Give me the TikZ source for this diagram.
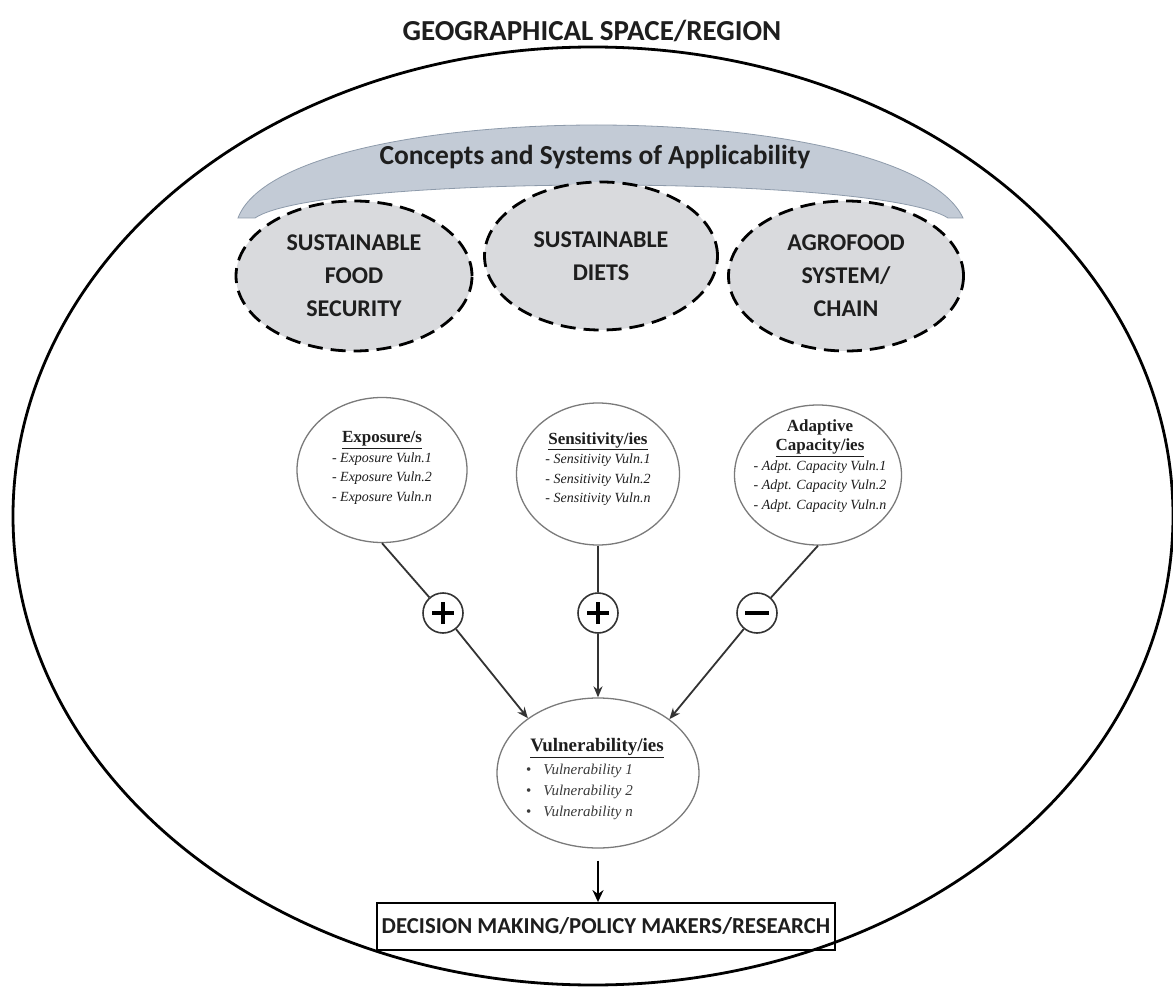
\documentclass[tikz,border=0pt]{standalone}
\usepackage{fontspec}
\setmainfont{Liberation Serif}
\newfontfamily\calibfont{Carlito}
\usetikzlibrary{shapes.geometric,arrows.meta}
\definecolor{textdark}{HTML}{1E1E1E}
\definecolor{conceptgray}{HTML}{D9DADD}
\definecolor{bandfill}{HTML}{C3CBD6}
\definecolor{bandedge}{HTML}{8E9BAB}
\definecolor{factorborder}{HTML}{7A7A7A}
\definecolor{linegray}{HTML}{333333}
\definecolor{itemgray}{HTML}{3A3A3A}
\begin{document}
\begin{tikzpicture}[x=1pt,y=-1pt,
  regionell/.style={ellipse, draw=black, line width=2.8pt, minimum width=1160pt, minimum height=938pt, inner sep=0pt},
  conceptell/.style={ellipse, draw=black, line width=2.8pt, dash pattern=on 15pt off 8pt, fill=conceptgray, inner sep=0pt, align=center, text=textdark, font=\calibfont\bfseries\fontsize{24}{33}\selectfont},
  factorell/.style={ellipse, draw=factorborder, line width=1.3pt, fill=white, inner sep=0pt},
  factortext/.style={align=center, text=textdark, inner sep=0pt, font=\fontsize{14}{19.5}\selectfont},
  signcirc/.style={circle, draw=linegray, line width=1.6pt, fill=white, minimum size=40pt, inner sep=0pt},
  signstroke/.style={draw=black, line width=3.5pt},
  conn/.style={draw=linegray, line width=1.8pt},
  arr/.style={conn, -{Stealth[length=11pt,width=9pt]}},
  decarr/.style={draw=black, line width=2.6pt, -{Stealth[length=12pt,width=11pt]}},
  decbox/.style={draw=black, line width=1.8pt, minimum width=458pt, minimum height=47pt, inner sep=0pt, text=textdark, font=\calibfont\bfseries\fontsize{22.8}{28}\selectfont},
  sanstitle/.style={text=textdark, inner sep=0pt, font=\calibfont\bfseries\fontsize{29}{34}\selectfont},
  bandtitle/.style={text=textdark, inner sep=0pt, font=\calibfont\bfseries\fontsize{27.5}{32}\selectfont}
]
\useasboundingbox (0,0) rectangle (1173,987);
\fill[white] (0,0) rectangle (1173,987);

% outer region
\node[regionell] (region) at (593,516) {};
\node[sanstitle] (title) at (592,31) {GEOGRAPHICAL SPACE/REGION};

% band
\path[draw=bandedge, fill=bandfill, line width=0.8pt]
  (238,218) .. controls (285,94) and (905,94) .. (963,218)
  -- (948,218) .. controls (880,174) and (320,174) .. (255,218) -- cycle;
\node[bandtitle] (concepts) at (595,157) {Concepts and Systems of Applicability};

% concept ellipses
\node[conceptell, minimum width=236pt, minimum height=150pt] (sfs) at (354,276) {SUSTAINABLE\\FOOD\\SECURITY};
\node[conceptell, minimum width=233pt, minimum height=148pt] (sd) at (601,256) {SUSTAINABLE\\DIETS};
\node[conceptell, minimum width=235pt, minimum height=150pt] (afs) at (846,276) {AGROFOOD\\SYSTEM/\\CHAIN};

% factor ellipses
\node[factorell, minimum width=170pt, minimum height=145pt] (expo) at (382,470) {};
\node[factorell, minimum width=163pt, minimum height=142pt] (sens) at (598,474) {};
\node[factorell, minimum width=167pt, minimum height=140pt] (adap) at (818,475) {};

\node[factortext] (expot) at (382,468) {{\fontsize{17}{19.5}\selectfont\bfseries\underline{Exposure/s}}\\\textit{- Exposure Vuln.1}\\\textit{- Exposure Vuln.2}\\\textit{- Exposure Vuln.n}};
\node[factortext] (senst) at (598,469) {{\fontsize{17}{19.5}\selectfont\bfseries\underline{Sensitivity/ies}}\\\textit{- Sensitivity Vuln.1}\\\textit{- Sensitivity Vuln.2}\\\textit{- Sensitivity Vuln.n}};
\node[factortext] (adapt) at (820,466) {{\fontsize{17}{19.5}\selectfont\bfseries Adaptive}\\{\fontsize{17}{19.5}\selectfont\bfseries\underline{Capacity/ies}}\\\textit{- Adpt. Capacity Vuln.1}\\\textit{- Adpt. Capacity Vuln.2}\\\textit{- Adpt. Capacity Vuln.n}};

% vulnerability
\node[factorell, minimum width=202pt, minimum height=150pt] (vul) at (598,773) {};
\node[text=textdark, inner sep=0pt, font=\bfseries\fontsize{19}{22}\selectfont] (vult) at (597,748) {\underline{Vulnerability/ies}};
\node[anchor=west, inner sep=0pt, text=itemgray, font=\fontsize{15}{21}\selectfont] (vuli) at (526,791)
 {\begin{tabular}{@{}l@{\hspace{12pt}}l@{}}\textbullet & \textit{Vulnerability 1}\\ \textbullet & \textit{Vulnerability 2}\\ \textbullet & \textit{Vulnerability n}\end{tabular}};

% signs
\node[signcirc] (p1) at (443,613) {};
\node[signcirc] (p2) at (598,613) {};
\node[signcirc] (m1) at (757,613) {};
\draw[signstroke] ([xshift=-11pt]p1.center) -- ([xshift=11pt]p1.center);
\draw[signstroke] ([yshift=-11pt]p1.center) -- ([yshift=11pt]p1.center);
\draw[signstroke] ([xshift=-11pt]p2.center) -- ([xshift=11pt]p2.center);
\draw[signstroke] ([yshift=-11pt]p2.center) -- ([yshift=11pt]p2.center);
\draw[signstroke] ([xshift=-12pt]m1.center) -- ([xshift=12pt]m1.center);

% connectors
\draw[conn] (expo.south) -- (p1);
\draw[arr] (p1) -- (vul.142);
\draw[conn] (sens.south) -- (p2);
\draw[arr] (p2) -- (vul.north);
\draw[conn] (adap.south) -- (m1);
\draw[arr] (m1) -- (vul.37);

% decision
\node[decbox] (dec) at (606,926.5) {DECISION MAKING/POLICY MAKERS/RESEARCH};
\draw[decarr] ([yshift=-12pt]vul.south) -- (vul.south |- dec.north);
\end{tikzpicture}
\end{document}
